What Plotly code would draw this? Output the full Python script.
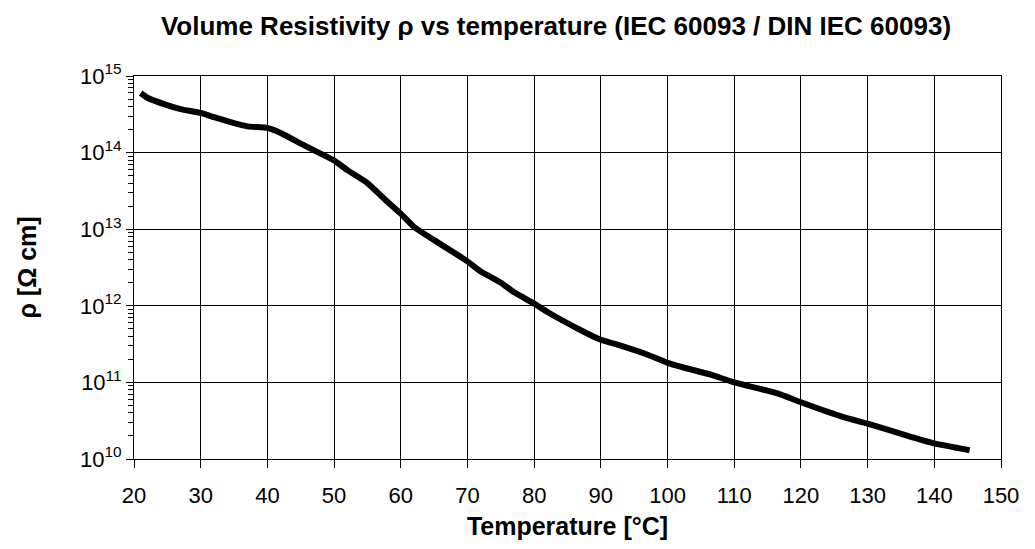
import plotly.graph_objects as go

temperature_c = [21, 22, 24.5, 27, 30, 32, 34.5, 37, 40, 42, 44.5, 47, 50, 52, 55, 57.5,
                 60, 62, 65, 70, 72, 75, 77, 80, 82, 87, 90, 92, 97, 100, 102, 106.5,
                 110, 116.5, 120, 126.5, 130, 136.5, 140, 145.3]
resistivity = [6.0e14, 5.2e14, 4.3e14, 3.7e14, 3.3e14, 2.9e14, 2.5e14, 2.2e14, 2.1e14,
               1.8e14, 1.38e14, 1.07e14, 7.9e13, 5.9e13, 4.0e13, 2.5e13, 1.6e13, 1.07e13,
               7.2e12, 3.8e12, 2.8e12, 2.0e12, 1.5e12, 1.07e12, 8.3e11, 4.8e11, 3.6e11,
               3.2e11, 2.3e11, 1.8e11, 1.6e11, 1.26e11, 1.0e11, 7.2e10, 5.5e10, 3.5e10,
               2.9e10, 1.95e10, 1.6e10, 1.3e10]

x_ticks = list(range(20, 151, 10))
y_tick_vals = [1e10, 1e11, 1e12, 1e13, 1e14, 1e15]
y_tick_text = ["10<sup>10</sup>", "10<sup>11</sup>", "10<sup>12</sup>",
               "10<sup>13</sup>", "10<sup>14</sup>", "10<sup>15</sup>"]

FONT = "Arial, 'Liberation Sans', sans-serif"

fig = go.Figure()
fig.add_trace(go.Scatter(
    x=temperature_c, y=resistivity, mode="lines",
    line=dict(color="black", width=6, shape="spline", smoothing=0.5),
    showlegend=False, hoverinfo="skip"))

fig.update_layout(
    width=1035, height=549,
    margin=dict(l=134, r=34, t=76, b=90),
    paper_bgcolor="white", plot_bgcolor="white",
    font=dict(family=FONT, color="black", size=22),
    title=dict(text="<b>Volume Resistivity ρ vs temperature (IEC 60093 / DIN IEC 60093)</b>",
               x=556 / 1035, xref="container", xanchor="center",
               y=1 - 26 / 549, yref="container", yanchor="middle",
               font=dict(size=26, family=FONT, color="black")),
)

fig.update_xaxes(
    range=[20, 150], tickvals=x_ticks, ticktext=[str(v) for v in x_ticks],
    showgrid=True, gridcolor="black", gridwidth=1,
    showline=True, linecolor="black", linewidth=1, mirror=True,
    ticks="outside", ticklen=8, tickcolor="black", tickwidth=1,
    ticklabelstandoff=9,
    tickfont=dict(size=22, family=FONT),
    title=dict(text="<b>Temperature [°C]</b>", font=dict(size=25, family=FONT), standoff=10),
    zeroline=False,
)

fig.update_yaxes(
    type="log", range=[10, 15], tickvals=y_tick_vals, ticktext=y_tick_text,
    showgrid=True, gridcolor="black", gridwidth=1,
    showline=True, linecolor="black", linewidth=1, mirror=True,
    ticks="outside", ticklen=7, tickcolor="black", tickwidth=1,
    minor=dict(ticks="outside", ticklen=5, tickcolor="black", dtick="D1", showgrid=False),
    tickfont=dict(size=22, family=FONT),
    title=dict(text="<b>ρ [Ω cm]</b>", font=dict(size=25, family=FONT), standoff=36),
    zeroline=False,
)

fig.write_html("out.html")
